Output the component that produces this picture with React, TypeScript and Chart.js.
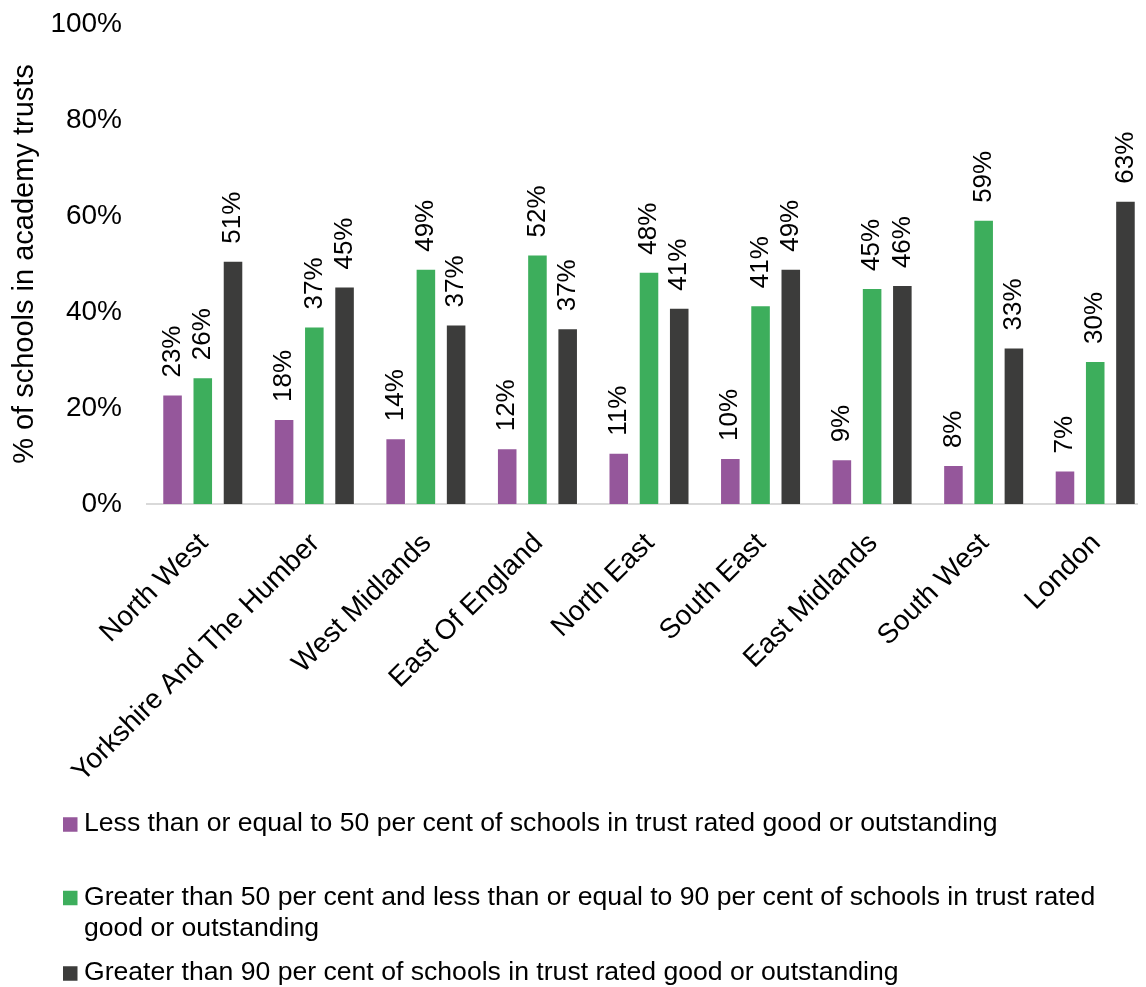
import React, { useEffect, useRef } from "react";
import { Chart, registerables } from "chart.js";

Chart.register(...registerables);

const categories = [
  "North West",
  "Yorkshire And The Humber",
  "West Midlands",
  "East Of England",
  "North East",
  "South East",
  "East Midlands",
  "South West",
  "London",
];

const seriesNames = [
  "Less than or equal to 50 per cent of schools in trust rated good or outstanding",
  "Greater than 50 per cent and less than or equal to 90 per cent of schools in trust rated good or outstanding",
  "Greater than 90 per cent of schools in trust rated good or outstanding",
];

const lowShare = [22.8, 17.7, 13.7, 11.6, 10.7, 9.6, 9.3, 8.1, 7.0];
const midShare = [26.4, 37.0, 49.0, 52.0, 48.4, 41.4, 45.0, 59.2, 29.8];
const highShare = [50.7, 45.3, 37.4, 36.6, 40.9, 49.0, 45.6, 32.6, 63.2];

const yTicks = [0, 20, 40, 60, 80, 100];
const yTitle = "% of schools in academy trusts";

const seriesColors = ["#95579B", "#3DAE5C", "#3C3C3B"];

const FONT = '"Liberation Sans", Arial, Helvetica, sans-serif';

const CANVAS_W = 1146;
const CANVAS_H = 979;
const LEGEND_SPACE = 160;
const PLOT_TOP = 16;
const PLOT_BOTTOM = 496;

const valueLabels = {
  id: "valueLabels",
  afterDatasetsDraw(chart: any) {
    const ctx = chart.ctx;
    ctx.save();
    ctx.font = `26px ${FONT}`;
    ctx.fillStyle = "#000";
    ctx.textAlign = "left";
    ctx.textBaseline = "middle";
    chart.data.datasets.forEach((ds: any, di: number) => {
      const meta = chart.getDatasetMeta(di);
      meta.data.forEach((bar: any, i: number) => {
        const v = ds.data[i];
        ctx.save();
        ctx.translate(bar.x, bar.y - 17);
        ctx.rotate(-Math.PI / 2);
        ctx.fillText(Math.round(v) + "%", 0, 0);
        ctx.restore();
      });
    });
    ctx.restore();
  },
};

const customLegend = {
  id: "customLegend",
  afterDraw(chart: any) {
    const ctx = chart.ctx;
    const itemY = [816, 889.5, 965];
    const lineGap = 31;
    const boxX = 55;
    const boxSize = 14.5;
    const textX = 76;
    const maxW = 1050;
    ctx.save();
    ctx.font = `26.6px ${FONT}`;
    ctx.textAlign = "left";
    ctx.textBaseline = "middle";
    chart.data.datasets.forEach((ds: any, di: number) => {
      const y = itemY[di];
      ctx.fillStyle = ds.backgroundColor;
      ctx.fillRect(boxX, y - boxSize / 2 + 0.5, boxSize, boxSize);
      ctx.fillStyle = "#000";
      const words = String(ds.label).split(" ");
      const lines: string[] = [];
      let cur = "";
      words.forEach((w) => {
        const test = cur ? cur + " " + w : w;
        if (ctx.measureText(test).width > maxW && cur) {
          lines.push(cur);
          cur = w;
        } else {
          cur = test;
        }
      });
      if (cur) lines.push(cur);
      lines.forEach((ln, li) => ctx.fillText(ln, textX, y + li * lineGap));
    });
    ctx.restore();
  },
};

export default function App() {
  const ref = useRef<HTMLCanvasElement | null>(null);

  useEffect(() => {
    if (!ref.current) return;
    const chart = new Chart(ref.current, {
      type: "bar",
      data: {
        labels: categories,
        datasets: [lowShare, midShare, highShare].map((d, i) => ({
          label: seriesNames[i],
          data: d,
          backgroundColor: seriesColors[i],
          borderColor: "rgba(255,255,255,0.3)",
          borderWidth: 1,
          categoryPercentage: 0.813,
          barPercentage: 0.68,
        })),
      },
      options: {
        responsive: false,
        animation: false,
        devicePixelRatio: 1,
        layout: { padding: { top: PLOT_TOP, right: 3, bottom: LEGEND_SPACE, left: 0 } },
        plugins: {
          legend: { display: false },
          tooltip: { enabled: false },
        },
        scales: {
          x: {
            grid: { display: false, drawTicks: false },
            border: { display: true, color: "#D9D9D9", width: 2 },
            ticks: {
              autoSkip: false,
              minRotation: 45,
              maxRotation: 45,
              padding: 23,
              labelOffset: 1,
              color: "#000",
              font: { family: FONT, size: 28 },
            },
            afterFit: (scale: any) => {
              scale.height = CANVAS_H - LEGEND_SPACE - PLOT_BOTTOM;
            },
          },
          y: {
            min: 0,
            max: 100,
            afterBuildTicks: (scale: any) => {
              scale.ticks = yTicks.map((v) => ({ value: v }));
            },
            grid: { display: false, drawTicks: false },
            border: { display: false },
            ticks: {
              padding: 25,
              color: "#000",
              font: { family: FONT, size: 28, lineHeight: 1 },
              callback: (v: any) => v + "%",
            },
            title: {
              display: true,
              text: yTitle,
              color: "#000",
              font: { family: FONT, size: 29 },
              padding: 0,
            },
            afterFit: (scale: any) => {
              scale.width = 139;
              scale.paddingTop = 10;
              scale.paddingBottom = 10;
            },
          },
        },
      },
      plugins: [valueLabels, customLegend],
    });
    return () => chart.destroy();
  }, []);

  return (
    <div
      style={{
        width: CANVAS_W - 8,
        height: CANVAS_H,
        overflow: "hidden",
      }}
    >
      <canvas
        ref={ref}
        width={CANVAS_W}
        height={CANVAS_H}
        style={{ display: "block", width: CANVAS_W, height: CANVAS_H }}
      />
    </div>
  );
}
